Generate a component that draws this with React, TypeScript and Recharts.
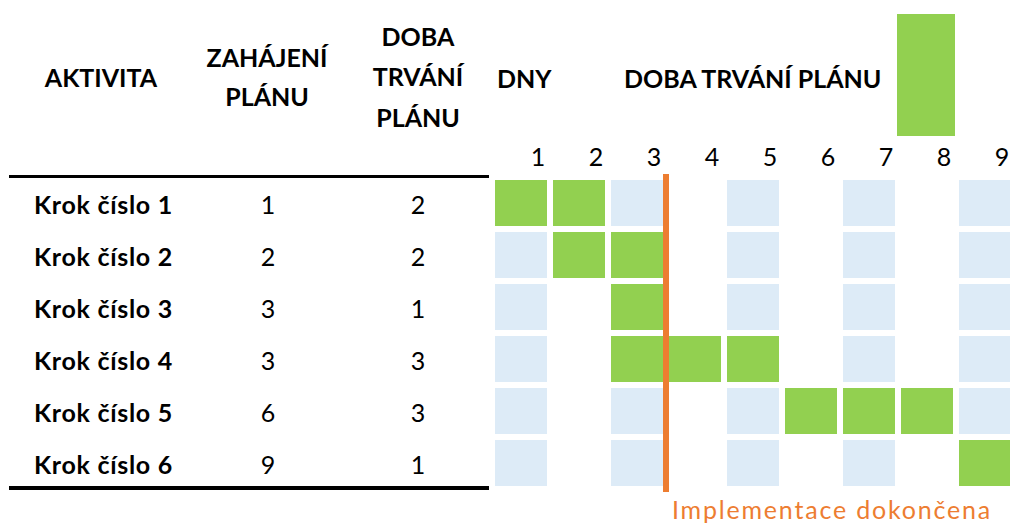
import { BarChart, Bar, Cell, XAxis, YAxis, ReferenceLine } from "recharts";

const activities = [
  "Krok číslo 1",
  "Krok číslo 2",
  "Krok číslo 3",
  "Krok číslo 4",
  "Krok číslo 5",
  "Krok číslo 6",
];
const planStart = [1, 2, 3, 3, 6, 9];
const planDuration = [2, 2, 1, 3, 3, 1];
const days = [1, 2, 3, 4, 5, 6, 7, 8, 9];
const completedDay = 3;
const completedLabel = "Implementace dokončena";

const GREEN = "#92D050";
const BLUE = "#DDEBF7";
const ORANGE = "#ED7D31";
const FONT = 'Lato, "Noto Sans", sans-serif';
const FS = 25;

// one row per activity, one unit-wide stacked segment per day
const rows = activities.map((name, i) => {
  const row: Record<string, string | number> = { name };
  days.forEach((d) => {
    row[`d${d}`] = 1;
  });
  return row;
});

function cellFill(i: number, d: number) {
  if (d >= planStart[i] && d < planStart[i] + planDuration[i]) return GREEN;
  return d % 2 === 1 ? BLUE : "#ffffff";
}

// the left-hand table rides on the category axis so rows line up with the bars
function TableTick({ y, payload }: any) {
  const i = activities.indexOf(payload.value);
  return (
    <g fontFamily={FONT} fontSize={FS} fill="#000">
      <text x={34} y={y} dy={11} fontWeight={700} letterSpacing={0.7}>
        {activities[i]}
      </text>
      <text x={268} y={y} dy={11} textAnchor="middle">
        {planStart[i]}
      </text>
      <text x={418} y={y} dy={11} textAnchor="middle">
        {planDuration[i]}
      </text>
    </g>
  );
}

function CompletedLabel({ viewBox }: any) {
  const { x, y, height } = viewBox;
  return (
    <text
      x={x + 6}
      y={y + height + 30}
      fill={ORANGE}
      fontFamily={FONT}
      fontSize={FS}
      letterSpacing={1.8}
    >
      {completedLabel}
    </text>
  );
}

export default function App() {
  return (
    <div
      style={{
        position: "absolute",
        left: 0,
        top: 0,
        width: 1010,
        height: 524,
        overflow: "hidden",
        background: "#fff",
      }}
    >
      <BarChart
        width={1022}
        height={524}
        data={rows}
        layout="vertical"
        barCategoryGap={0}
        margin={{ top: 147, right: 8, bottom: 35, left: 0 }}
      >
        <XAxis
          type="number"
          orientation="top"
          domain={[0, days.length]}
          ticks={days.map((d) => d - 0.5)}
          tickFormatter={(v) => String(v + 0.5)}
          height={30}
          axisLine={false}
          tickLine={false}
          tickSize={0}
          tickMargin={11}
          tick={{ fill: "#000", fontSize: FS, fontFamily: FONT, dx: 17 }}
        />
        <YAxis
          type="category"
          dataKey="name"
          width={492}
          axisLine={false}
          tickLine={false}
          tick={<TableTick />}
        />
        {days.map((d) => (
          <Bar
            key={d}
            dataKey={`d${d}`}
            stackId="days"
            stroke="#ffffff"
            strokeWidth={6}
            isAnimationActive={false}
          >
            {rows.map((_, i) => (
              <Cell key={i} fill={cellFill(i, d)} />
            ))}
          </Bar>
        ))}
        <ReferenceLine
          x={completedDay}
          stroke={ORANGE}
          strokeWidth={6}
          strokeLinecap="square"
          label={<CompletedLabel />}
        />
      </BarChart>
      <svg
        width={1010}
        height={524}
        style={{ position: "absolute", left: 0, top: 0, pointerEvents: "none" }}
        fontFamily={FONT}
        fontSize={FS}
        fontWeight={700}
      >
        <text x={101} y={87} textAnchor="middle">AKTIVITA</text>
        <text x={267} y={67} textAnchor="middle">ZAHÁJENÍ</text>
        <text x={267} y={106} textAnchor="middle">PLÁNU</text>
        <text x={418} y={46} textAnchor="middle">DOBA</text>
        <text x={418} y={86} textAnchor="middle">TRVÁNÍ</text>
        <text x={418} y={127} textAnchor="middle">PLÁNU</text>
        <text x={497} y={88}>DNY</text>
        <text x={624} y={88}>DOBA TRVÁNÍ PLÁNU</text>
        <rect x={897} y={14} width={58} height={122} fill={GREEN} />
        <rect x={9} y={175} width={480} height={3} fill="#000" />
        <rect x={9} y={486} width={480} height={4} fill="#000" />
      </svg>
    </div>
  );
}
